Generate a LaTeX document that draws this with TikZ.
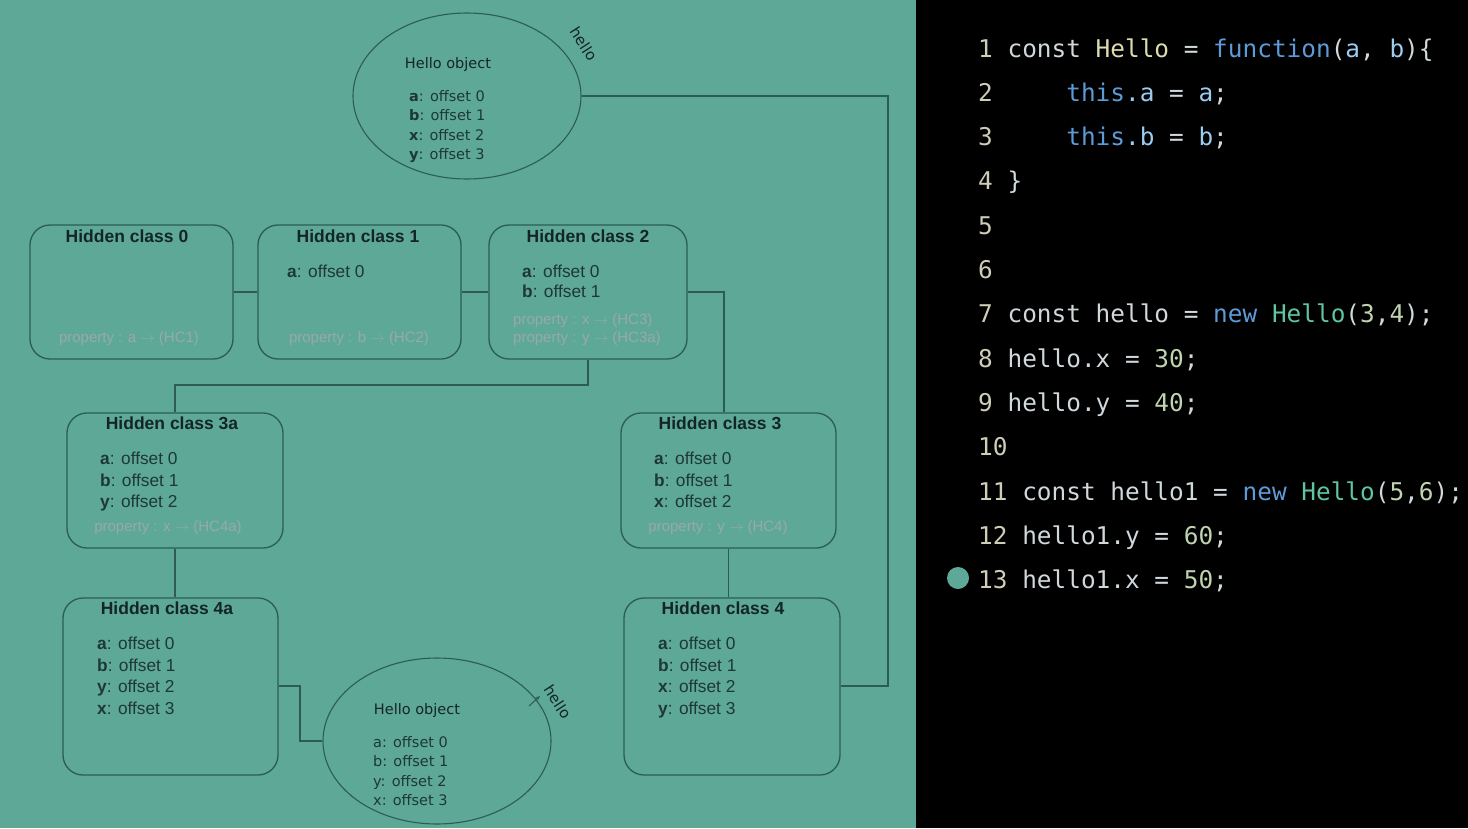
\documentclass[tikz,border=0pt]{standalone}
\usepackage{fontspec}
\setmainfont{Liberation Sans}
\newfontfamily\codefont{DejaVu Sans Mono}
\newfontfamily\objfont{DejaVu Sans}
\usetikzlibrary{arrows.meta,shapes.geometric}
\definecolor{teal0}{HTML}{5EA898}
\definecolor{linec}{HTML}{2C5C54}
\definecolor{titlec}{HTML}{142624}
\definecolor{bodyc}{HTML}{1E3834}
\definecolor{propc}{HTML}{98AAA6}
\definecolor{cnum}{HTML}{CFCDB8}
\definecolor{cplain}{HTML}{D0D8DC}
\definecolor{cyel}{HTML}{DCDCB0}
\definecolor{cblue}{HTML}{5C9BD8}
\definecolor{clblue}{HTML}{9CCCF0}
\definecolor{cgreen}{HTML}{5EC4A4}
\definecolor{cnumlit}{HTML}{C0D4B0}
\tikzset{
  hcbox/.style={draw=linec, line width=1.3pt, rounded corners=20pt, fill=teal0, inner sep=0pt},
  objell/.style={draw=linec, line width=1.1pt, ellipse, fill=teal0, inner sep=0pt},
  conn/.style={draw=linec, line width=1.3pt},
  hctitle/.style={font=\fontsize{17.5}{19}\selectfont\bfseries, text=titlec, inner sep=0pt},
  hcbody/.style={font=\fontsize{17.3}{21.5}\selectfont, text=bodyc, inner sep=0pt, anchor=north west, align=left},
  hcprop/.style={font=\fontsize{15}{18}\selectfont, text=propc, inner sep=0pt},
  objtitle/.style={font=\objfont\fontsize{14.5}{17}\selectfont, text=titlec, inner sep=0pt},
  objbody/.style={font=\objfont\fontsize{14.5}{19.5}\selectfont, text=bodyc, inner sep=0pt, anchor=north west, align=left},
  objlab/.style={font=\objfont\fontsize{15}{17}\selectfont, text=titlec, inner sep=0pt, rotate=-57},
  codeline/.style={font=\codefont\fontsize{24.4}{28}\selectfont, text=cplain, inner sep=0pt, anchor=base west},
}
\newcommand\lnum[1]{\textcolor{cnum}{#1}}
\begin{document}
\begin{tikzpicture}[x=1pt,y=-1pt]
\useasboundingbox (0,0) rectangle (1468,828);
\fill[teal0] (0,0) rectangle (916,828);
\fill[black] (916,0) rectangle (1468,828);

% objects
\node[objell, minimum width=228pt, minimum height=166pt] (obj1) at (467,96) {};
\node[objell, minimum width=228pt, minimum height=166pt] (obj2) at (437,741) {};

% hidden classes
\node[hcbox, minimum width=203pt, minimum height=134pt] (hc0) at (131.5,292) {};
\node[hcbox, minimum width=203pt, minimum height=134pt] (hc1) at (359.5,292) {};
\node[hcbox, minimum width=198pt, minimum height=134pt] (hc2) at (588,292) {};
\node[hcbox, minimum width=216pt, minimum height=135pt] (hc3a) at (175,480.5) {};
\node[hcbox, minimum width=215pt, minimum height=135pt] (hc3) at (728.5,480.5) {};
\node[hcbox, minimum width=215pt, minimum height=177pt] (hc4a) at (170.5,686.5) {};
\node[hcbox, minimum width=216pt, minimum height=177pt] (hc4) at (732,686.5) {};

% connectors
\coordinate (k1) at (724,292);
\coordinate (k2) at (588,385);
\coordinate (k3) at (175,385);
\coordinate (k4) at (888,686);
\coordinate (k5) at (888,96);
\coordinate (k6) at (300,686);
\coordinate (k7) at (300,741);
\draw[conn] (hc0.east) -- (hc1.west);
\draw[conn] (hc1.east) -- (hc2.west);
\draw[conn] (hc2.east) -- (k1) -- (hc3.north -| k1);
\draw[conn] (hc2.south) -- (k2) -- (k3) -- (hc3a.north);
\draw[conn] (hc3a.south) -- (hc4a.north -| hc3a.south);
\draw[conn] (hc3.south) -- (hc4.north -| hc3.south);
\draw[conn] (hc4.east |- k4) -- (k4) -- (k5) -- (obj1.east);
\draw[conn] (hc4a.east |- k6) -- (k6) -- (k7) -- (obj2.west);

% object texts
\node[objtitle] (o1t) at (448,64) {Hello object};
\node[objbody] (o1b) at (409,90) {\textbf{a}: offset 0\\\textbf{b}: offset 1\\\textbf{x}: offset 2\\\textbf{y}: offset 3};
\node[objlab] (o1l) at (584,44) {hello};
\node[objtitle] (o2t) at (417,710) {Hello object};
\node[objbody] (o2b) at (373,736) {a: offset 0\\b: offset 1\\y: offset 2\\x: offset 3};
\node[objlab] (o2l) at (558,702) {hello};
\coordinate (t1) at (529,706);
\coordinate (t2) at (540,696);
\draw[draw=linec, line width=1pt, -{Stealth[length=5pt,width=4pt]}] (t1) -- (t2);

% HC0
\node[hctitle] (hc0t) at (127,236) {Hidden class 0};
\node[hcprop] (hc0p) at (129,339) {property : a $\rightarrow$ (HC1)};
% HC1
\node[hctitle] (hc1t) at (358,236) {Hidden class 1};
\node[hcbody] (hc1b) at (287,265) {\textbf{a}: offset 0};
\node[hcprop] (hc1p) at (359,339) {property : b $\rightarrow$ (HC2)};
% HC2
\node[hctitle] (hc2t) at (588,236) {Hidden class 2};
\node[hcbody] (hc2b) at (522,265) {\textbf{a}: offset 0\\[-1.5pt]\textbf{b}: offset 1};
\node[hcprop, anchor=west] (hc2p1) at (513,321) {property : x $\rightarrow$ (HC3)};
\node[hcprop, anchor=west] (hc2p2) at (513,339) {property : y $\rightarrow$ (HC3a)};
% HC3a
\node[hctitle] (hc3at) at (172,423) {Hidden class 3a};
\node[hcbody] (hc3ab) at (100,452) {\textbf{a}: offset 0\\\textbf{b}: offset 1\\\textbf{y}: offset 2};
\node[hcprop] (hc3ap) at (168,528) {property : x $\rightarrow$ (HC4a)};
% HC3
\node[hctitle] (hc3t) at (720,423) {Hidden class 3};
\node[hcbody] (hc3b) at (654,452) {\textbf{a}: offset 0\\\textbf{b}: offset 1\\\textbf{x}: offset 2};
\node[hcprop] (hc3p) at (718,528) {property : y $\rightarrow$ (HC4)};
% HC4a
\node[hctitle] (hc4at) at (167,608) {Hidden class 4a};
\node[hcbody] (hc4ab) at (97,637) {\textbf{a}: offset 0\\\textbf{b}: offset 1\\\textbf{y}: offset 2\\\textbf{x}: offset 3};
% HC4
\node[hctitle] (hc4t) at (723,608) {Hidden class 4};
\node[hcbody] (hc4b) at (658,637) {\textbf{a}: offset 0\\\textbf{b}: offset 1\\\textbf{x}: offset 2\\\textbf{y}: offset 3};

% code
\node[codeline] (c1) at (978,57) {\lnum{1} const \textcolor{cyel}{Hello} = \textcolor{cblue}{function}(\textcolor{clblue}{a}, \textcolor{clblue}{b})\{};
\node[codeline] (c2) at (978,101.3) {\lnum{2}\phantom{0000} \textcolor{cblue}{this}\textcolor{clblue}{.a} = \textcolor{clblue}{a};};
\node[codeline] (c3) at (978,145.6) {\lnum{3}\phantom{0000} \textcolor{cblue}{this}\textcolor{clblue}{.b} = \textcolor{clblue}{b};};
\node[codeline] (c4) at (978,189.9) {\lnum{4} \}};
\node[codeline] (c5) at (978,234.2) {\lnum{5}};
\node[codeline] (c6) at (978,278.5) {\lnum{6}};
\node[codeline] (c7) at (978,322.8) {\lnum{7} const hello = \textcolor{cblue}{new} \textcolor{cgreen}{Hello}(\textcolor{cnumlit}{3},\textcolor{cnumlit}{4});};
\node[codeline] (c8) at (978,367.1) {\lnum{8} hello.x = \textcolor{cnumlit}{30};};
\node[codeline] (c9) at (978,411.4) {\lnum{9} hello.y = \textcolor{cnumlit}{40};};
\node[codeline] (c10) at (978,455.7) {\lnum{10}};
\node[codeline] (c11) at (978,500) {\lnum{11} const hello1 = \textcolor{cblue}{new} \textcolor{cgreen}{Hello}(\textcolor{cnumlit}{5},\textcolor{cnumlit}{6});};
\node[codeline] (c12) at (978,544.3) {\lnum{12} hello1.y = \textcolor{cnumlit}{60};};
\node[codeline] (c13) at (978,588.6) {\lnum{13} hello1.x = \textcolor{cnumlit}{50};};
\node[circle, fill=teal0, minimum size=22pt, inner sep=0pt] (bp) at (958,578) {};
\end{tikzpicture}
\end{document}
